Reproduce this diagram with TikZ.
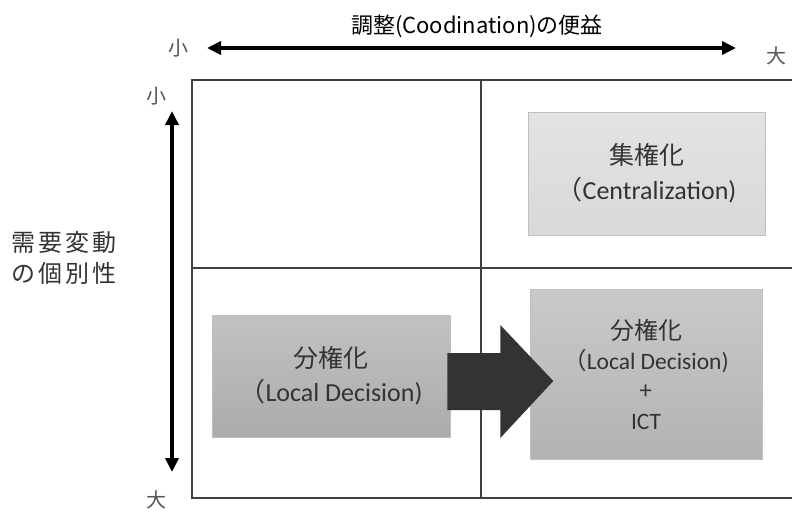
\documentclass[tikz,border=0pt]{standalone}
\usepackage{fontspec}
\setmainfont{Carlito}
\newfontfamily\jp{Noto Sans CJK JP}
\newfontfamily\jpwide{Noto Sans CJK JP}[LetterSpace=12]
\usetikzlibrary{positioning, arrows.meta, backgrounds}

\definecolor{txtGray}{HTML}{333333}
\definecolor{lineGray}{HTML}{404040}
\definecolor{tickGray}{HTML}{555555}

\begin{document}
\begin{tikzpicture}[
                x=1pt, y=-1pt,
                % Box Styles
                stratBox/.style = {rectangle, draw=black!25, line width=0.6pt, inner sep=0pt, align=center, text=txtGray},
                axisTick/.style = {font=\jp\fontsize{20}{20}\selectfont, text=tickGray, inner sep=0pt},
                % Arrow Style
                axisLine/.style = {{Triangle[length=14pt, width=13pt]}-{Triangle[length=14pt, width=13pt]}, line width=3.6pt, draw=black},
                gridLine/.style = {draw=lineGray, line width=1.1pt}
            ]
                \useasboundingbox (0,0) rectangle (792,512);

                % ==========================================
                % QUADRANT GRID
                % ==========================================
                \coordinate (GridNW) at (192,80);
                \coordinate (GridSE) at (796,498);
                \coordinate (MidTop) at (481,80);
                \coordinate (MidBot) at (481,498);
                \coordinate (MidL) at (192,268);
                \coordinate (MidR) at (796,268);
                \draw[gridLine] (GridNW) rectangle (GridSE);
                \draw[gridLine] (MidTop) -- (MidBot);
                \draw[gridLine] (MidL) -- (MidR);

                % ==========================================
                % AXES
                % ==========================================
                \node[axisTick] (XSmall) at (178,48) {小};
                \node[axisTick] (XLarge) at (776,56) {大};
                \coordinate (XFrom) at (207,48);
                \coordinate (XTo) at (736,48);
                \draw[axisLine] (XFrom) -- (XTo);
                \node[font=\jp\fontsize{22}{22}\selectfont, text=black, inner sep=0pt] (XTitle) at (477,26) {調整(Coodination)の便益};

                \node[axisTick] (YSmall) at (156,96) {小};
                \node[axisTick] (YLarge) at (156,500) {大};
                \coordinate (YFrom) at (172,111);
                \coordinate (YTo) at (172,472);
                \draw[axisLine] (YFrom) -- (YTo);
                \node[font=\jpwide\fontsize{24}{31}\selectfont, text=txtGray, align=left, inner sep=0pt] (YTitle) at (64,258) {需要変動\\の個別性};

                % ==========================================
                % STRATEGY BOXES
                % ==========================================
                \node[stratBox, top color=black!11, bottom color=black!15, minimum width=237pt, minimum height=123pt,
                      font=\fontsize{26}{35}\selectfont] (Central) at (646.5,173.5)
                      {{\jp\fontsize{25}{25}\selectfont 集権化}\\{\jp（}Centralization)};

                \node[stratBox, top color=black!24, bottom color=black!33, minimum width=238pt, minimum height=122pt,
                      font=\fontsize{26}{34}\selectfont] (LocalDec) at (331,376)
                      {{\jp\fontsize{25}{25}\selectfont 分権化}\\{\jp（}Local Decision)};

                \node[stratBox, top color=black!21, bottom color=black!30, minimum width=232pt, minimum height=170pt,
                      font=\fontsize{23.5}{30}\selectfont] (LocalICT) at (646,374)
                      {{\jp\fontsize{24}{24}\selectfont 分権化}\\{\jp（}Local Decision)\\{\jp +}\\ICT};

                % ==========================================
                % TRANSITION ARROW
                % ==========================================
                \fill[txtGray] ([xshift=-3pt, yshift=23pt]LocalDec.east) -- ++(53,0) -- ++(0,-28) -- ++(53,56)
                    -- ++(-53,57) -- ++(0,-28) -- ++(-53,0) -- cycle;

            \end{tikzpicture}
\end{document}
